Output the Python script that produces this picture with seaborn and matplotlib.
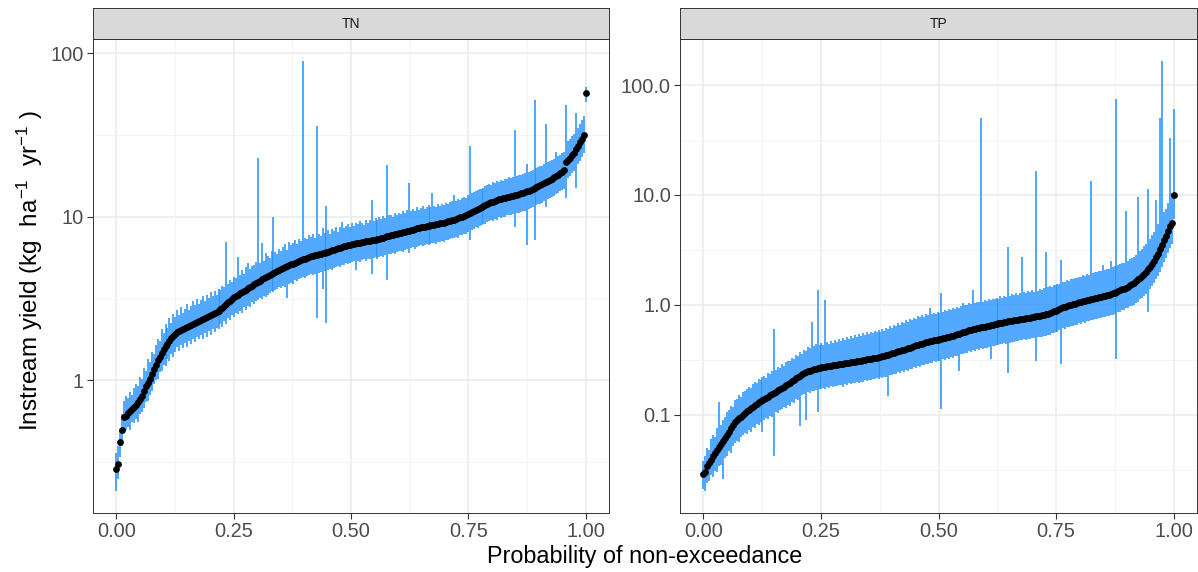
import numpy as np
import pandas as pd
import matplotlib
matplotlib.use("Agg")
import matplotlib.pyplot as plt
import seaborn as sns
from matplotlib.ticker import FixedLocator, FixedFormatter, NullFormatter

# ---------------- data ----------------
panels = ["TN", "TP"]

tn_median = [
    0.29, 0.31, 0.42, 0.50, 0.60, 0.61, 0.63, 0.65, 0.67, 0.69,
    0.71, 0.74, 0.77, 0.80, 0.86, 0.92, 0.97, 1.02, 1.10, 1.18,
    1.25, 1.33, 1.40, 1.48, 1.55, 1.62, 1.68, 1.75, 1.82, 1.88,
    1.93, 1.97, 2.01, 2.04, 2.07, 2.10, 2.13, 2.16, 2.19, 2.22,
    2.25, 2.28, 2.31, 2.34, 2.37, 2.40, 2.43, 2.46, 2.50, 2.53,
    2.57, 2.62, 2.67, 2.72, 2.78, 2.85, 2.92, 3.00, 3.07, 3.15,
    3.22, 3.28, 3.34, 3.40, 3.46, 3.52, 3.58, 3.65, 3.72, 3.80,
    3.87, 3.95, 4.02, 4.08, 4.14, 4.20, 4.27, 4.35, 4.42, 4.48,
    4.54, 4.60, 4.67, 4.75, 4.82, 4.88, 4.94, 5.00, 5.06, 5.12,
    5.18, 5.25, 5.31, 5.38, 5.44, 5.50, 5.56, 5.62, 5.67, 5.72,
    5.77, 5.82, 5.86, 5.90, 5.94, 5.98, 6.02, 6.07, 6.12, 6.18,
    6.24, 6.30, 6.36, 6.42, 6.48, 6.55, 6.60, 6.66, 6.71, 6.76,
    6.80, 6.85, 6.89, 6.93, 6.96, 7.00, 7.03, 7.07, 7.10, 7.14,
    7.18, 7.22, 7.26, 7.30, 7.35, 7.40, 7.46, 7.52, 7.58, 7.64,
    7.70, 7.76, 7.82, 7.88, 7.94, 8.00, 8.06, 8.12, 8.18, 8.24,
    8.30, 8.36, 8.42, 8.48, 8.54, 8.60, 8.65, 8.70, 8.75, 8.80,
    8.85, 8.90, 8.95, 9.00, 9.05, 9.10, 9.16, 9.22, 9.29, 9.36,
    9.44, 9.52, 9.61, 9.70, 9.80, 9.90, 10.02, 10.15, 10.30, 10.45,
    10.60, 10.75, 10.90, 11.05, 11.20, 11.35, 11.50, 11.65, 11.80, 11.95,
    12.10, 12.25, 12.38, 12.50, 12.62, 12.75, 12.85, 12.95, 13.05, 13.15,
    13.25, 13.35, 13.45, 13.55, 13.65, 13.75, 13.88, 14.00, 14.15, 14.30,
    14.45, 14.60, 14.80, 15.00, 15.20, 15.40, 15.60, 15.80, 16.05, 16.30,
    16.55, 16.80, 17.10, 17.40, 17.75, 18.10, 18.50, 18.90, 19.20, 21.50,
    22.3, 23.0, 23.8, 24.5, 25.8, 27.0, 28.5, 30.0, 31.5, 57.0]
tn_lower = [
    0.21, 0.25, 0.34, 0.40, 0.48, 0.50, 0.52, 0.50, 0.56, 0.55,
    0.58, 0.56, 0.62, 0.64, 0.68, 0.74, 0.75, 0.82, 0.86, 0.95,
    1.00, 1.02, 1.12, 1.15, 1.25, 1.22, 1.35, 1.32, 1.45, 1.40,
    1.50, 1.60, 1.52, 1.65, 1.58, 1.70, 1.60, 1.75, 1.66, 1.80,
    1.72, 1.85, 1.78, 1.90, 1.80, 1.95, 1.85, 2.00, 1.90, 2.05,
    1.98, 2.10, 2.05, 2.20, 2.12, 2.30, 2.20, 2.40, 2.35, 2.50,
    2.45, 2.60, 2.55, 2.65, 2.60, 2.80, 2.70, 2.85, 2.80, 3.00,
    2.95, 3.05, 3.10, 3.20, 3.15, 3.30, 3.25, 3.35, 3.40, 3.50,
    3.45, 3.55, 3.60, 3.70, 3.65, 3.80, 3.75, 3.20, 3.90, 3.95,
    3.90, 4.10, 4.05, 4.15, 4.20, 4.30, 4.25, 4.35, 4.40, 4.45,
    4.40, 4.50, 2.40, 4.55, 4.60, 3.60, 4.65, 2.25, 4.75, 4.80,
    4.75, 4.85, 4.90, 5.00, 4.95, 5.05, 5.10, 5.20, 5.15, 5.25,
    5.30, 5.35, 4.70, 5.40, 5.30, 5.45, 5.50, 5.40, 5.55, 5.50,
    4.50, 5.60, 5.65, 5.55, 5.70, 5.75, 5.70, 5.85, 4.10, 5.90,
    5.95, 6.00, 5.90, 6.10, 6.15, 6.20, 6.10, 6.30, 6.35, 6.00,
    6.45, 6.50, 6.40, 6.55, 6.60, 6.70, 6.60, 6.75, 6.80, 6.70,
    6.85, 6.90, 6.95, 6.85, 7.00, 7.05, 7.10, 7.00, 7.20, 7.25,
    7.30, 7.40, 7.45, 7.50, 7.45, 7.70, 7.75, 7.85, 7.80, 8.10,
    7.20, 8.30, 8.45, 8.60, 8.55, 8.80, 8.90, 9.05, 9.00, 9.25,
    9.40, 9.50, 9.45, 9.70, 9.60, 9.90, 9.80, 10.0, 9.90, 10.2,
    10.3, 10.2, 10.4, 8.60, 10.5, 10.6, 10.7, 10.9, 10.8, 6.70,
    11.2, 11.3, 11.4, 7.20, 11.8, 11.9, 12.0, 12.2, 12.4, 11.4,
    12.8, 13.0, 13.2, 13.4, 13.7, 14.0, 14.3, 14.6, 14.8, 13.0,
    17.2, 17.8, 18.4, 19.0, 15.0, 21.0, 22.0, 23.2, 24.5, 50.0]
tn_upper = [
    0.36, 0.40, 0.50, 0.62, 0.75, 0.80, 0.78, 0.85, 0.82, 0.90,
    0.95, 0.92, 1.05, 1.02, 1.20, 1.15, 1.35, 1.30, 1.50, 1.45,
    1.65, 1.80, 1.75, 2.05, 1.95, 2.20, 2.10, 2.40, 2.25, 2.55,
    2.45, 2.70, 2.50, 2.80, 2.60, 2.75, 2.95, 2.70, 2.85, 3.05,
    2.90, 3.15, 2.95, 3.10, 3.30, 3.05, 3.35, 3.20, 3.45, 3.30,
    3.50, 3.35, 3.60, 3.55, 3.80, 3.70, 7.00, 3.90, 4.10, 4.00,
    4.30, 4.20, 5.70, 4.40, 4.70, 4.50, 4.90, 5.20, 4.80, 5.00,
    5.10, 5.30, 22.7, 5.20, 6.90, 5.40, 6.00, 5.80, 5.60, 6.20,
    10.0, 6.10, 5.90, 6.40, 6.20, 6.50, 6.80, 6.30, 7.00, 6.70,
    6.90, 7.20, 6.80, 7.30, 7.10, 90.0, 7.40, 7.30, 7.70, 7.50,
    7.80, 7.40, 36.0, 7.90, 7.60, 8.50, 8.00, 11.7, 8.30, 7.90,
    8.40, 8.20, 8.60, 8.10, 8.70, 9.30, 8.50, 8.80, 9.00, 8.70,
    9.10, 8.80, 9.20, 9.00, 9.40, 9.10, 8.90, 9.50, 9.20, 9.60,
    12.6, 9.40, 9.80, 9.50, 9.90, 9.70, 10.1, 9.80, 20.6, 10.2,
    10.3, 10.0, 10.5, 10.3, 10.6, 10.4, 10.9, 10.6, 11.0, 16.0,
    10.8, 11.2, 10.9, 11.4, 11.0, 11.3, 11.6, 11.2, 11.5, 11.8,
    11.4, 14.0, 11.7, 11.5, 11.9, 11.6, 12.0, 11.8, 12.2, 12.0,
    12.3, 12.5, 13.5, 12.4, 12.8, 12.6, 13.0, 13.2, 13.0, 13.6,
    27.0, 13.9, 14.2, 14.4, 14.6, 14.8, 14.7, 15.0, 15.4, 15.6,
    15.8, 15.6, 16.2, 16.0, 16.5, 16.3, 16.8, 16.6, 17.0, 16.9,
    17.4, 17.2, 17.6, 34.0, 17.8, 18.0, 17.9, 18.2, 18.5, 21.0,
    18.8, 19.0, 19.4, 52.0, 19.8, 20.0, 20.4, 20.5, 21.0, 37.0,
    21.5, 21.8, 22.3, 22.6, 25.0, 23.5, 24.0, 24.5, 25.0, 48.0,
    29.0, 30.0, 31.0, 32.0, 43.0, 35.0, 37.0, 39.0, 41.0, 62.0]

tp_median = [
    0.029, 0.030, 0.034, 0.036, 0.039, 0.042, 0.045, 0.048, 0.051, 0.054,
    0.057, 0.061, 0.065, 0.070, 0.075, 0.080, 0.085, 0.089, 0.093, 0.096,
    0.100, 0.103, 0.107, 0.110, 0.114, 0.118, 0.122, 0.126, 0.130, 0.133,
    0.137, 0.140, 0.143, 0.146, 0.150, 0.153, 0.157, 0.162, 0.166, 0.170,
    0.175, 0.180, 0.185, 0.190, 0.196, 0.202, 0.208, 0.214, 0.220, 0.226,
    0.232, 0.238, 0.243, 0.248, 0.252, 0.256, 0.259, 0.262, 0.265, 0.267,
    0.269, 0.271, 0.273, 0.275, 0.277, 0.279, 0.281, 0.283, 0.285, 0.287,
    0.289, 0.291, 0.293, 0.295, 0.297, 0.299, 0.301, 0.303, 0.306, 0.308,
    0.311, 0.313, 0.316, 0.318, 0.321, 0.323, 0.326, 0.328, 0.331, 0.334,
    0.337, 0.340, 0.344, 0.348, 0.352, 0.357, 0.361, 0.366, 0.371, 0.376,
    0.381, 0.386, 0.391, 0.397, 0.402, 0.408, 0.414, 0.420, 0.426, 0.432,
    0.438, 0.444, 0.450, 0.455, 0.460, 0.465, 0.470, 0.474, 0.478, 0.482,
    0.486, 0.490, 0.495, 0.500, 0.506, 0.512, 0.518, 0.525, 0.532, 0.540,
    0.547, 0.555, 0.562, 0.570, 0.577, 0.585, 0.591, 0.598, 0.604, 0.610,
    0.616, 0.622, 0.628, 0.634, 0.640, 0.646, 0.652, 0.658, 0.664, 0.670,
    0.676, 0.682, 0.688, 0.694, 0.700, 0.705, 0.710, 0.716, 0.721, 0.727,
    0.732, 0.738, 0.743, 0.749, 0.754, 0.760, 0.765, 0.771, 0.777, 0.783,
    0.789, 0.795, 0.802, 0.810, 0.820, 0.830, 0.842, 0.855, 0.870, 0.885,
    0.900, 0.915, 0.930, 0.945, 0.960, 0.975, 0.988, 1.000, 1.012, 1.025,
    1.037, 1.050, 1.062, 1.075, 1.088, 1.100, 1.112, 1.125, 1.137, 1.150,
    1.162, 1.175, 1.187, 1.200, 1.212, 1.225, 1.240, 1.255, 1.272, 1.290,
    1.310, 1.330, 1.355, 1.380, 1.405, 1.430, 1.465, 1.500, 1.545, 1.590,
    1.645, 1.700, 1.770, 1.840, 1.920, 2.000, 2.100, 2.200, 2.350, 2.500,
    2.700, 2.900, 3.200, 3.500, 3.850, 4.200, 4.700, 5.200, 5.600, 9.900]
tp_lower = [
    0.021, 0.020, 0.024, 0.025, 0.028, 0.027, 0.031, 0.030, 0.034, 0.035,
    0.026, 0.040, 0.042, 0.047, 0.045, 0.052, 0.055, 0.058, 0.056, 0.063,
    0.065, 0.068, 0.066, 0.072, 0.070, 0.077, 0.075, 0.082, 0.080, 0.086,
    0.070, 0.090, 0.093, 0.092, 0.097, 0.095, 0.042, 0.105, 0.103, 0.110,
    0.113, 0.117, 0.115, 0.123, 0.120, 0.131, 0.128, 0.139, 0.136, 0.079,
    0.150, 0.155, 0.090, 0.160, 0.158, 0.165, 0.163, 0.168, 0.105, 0.172,
    0.170, 0.176, 0.172, 0.178, 0.175, 0.181, 0.178, 0.184, 0.181, 0.186,
    0.185, 0.180, 0.190, 0.188, 0.193, 0.190, 0.195, 0.193, 0.198, 0.196,
    0.200, 0.198, 0.205, 0.202, 0.208, 0.206, 0.212, 0.210, 0.215, 0.213,
    0.218, 0.216, 0.222, 0.220, 0.147, 0.230, 0.228, 0.236, 0.234, 0.243,
    0.240, 0.248, 0.246, 0.255, 0.252, 0.262, 0.258, 0.270, 0.266, 0.278,
    0.274, 0.285, 0.282, 0.292, 0.288, 0.298, 0.295, 0.305, 0.300, 0.310,
    0.306, 0.113, 0.318, 0.315, 0.325, 0.322, 0.333, 0.330, 0.342, 0.340,
    0.250, 0.357, 0.354, 0.366, 0.363, 0.376, 0.372, 0.384, 0.380, 0.392,
    0.388, 0.400, 0.396, 0.408, 0.404, 0.416, 0.320, 0.424, 0.420, 0.432,
    0.428, 0.440, 0.436, 0.448, 0.444, 0.240, 0.452, 0.462, 0.458, 0.470,
    0.466, 0.478, 0.474, 0.485, 0.480, 0.492, 0.488, 0.500, 0.495, 0.310,
    0.505, 0.512, 0.508, 0.522, 0.520, 0.535, 0.532, 0.552, 0.548, 0.570,
    0.565, 0.590, 0.290, 0.610, 0.605, 0.630, 0.625, 0.645, 0.640, 0.660,
    0.655, 0.678, 0.672, 0.694, 0.688, 0.710, 0.705, 0.726, 0.720, 0.742,
    0.736, 0.758, 0.752, 0.774, 0.768, 0.790, 0.785, 0.810, 0.805, 0.832,
    0.320, 0.860, 0.858, 0.890, 0.888, 0.925, 0.925, 0.968, 0.975, 1.000,
    1.040, 1.070, 1.120, 1.160, 1.210, 1.260, 0.860, 1.390, 1.480, 1.575,
    1.700, 1.830, 2.000, 2.200, 2.450, 2.650, 2.950, 3.300, 3.550, 6.000]
tp_upper = [
    0.038, 0.042, 0.050, 0.048, 0.060, 0.065, 0.062, 0.075, 0.130, 0.080,
    0.090, 0.095, 0.105, 0.110, 0.120, 0.118, 0.135, 0.140, 0.150, 0.145,
    0.160, 0.165, 0.170, 0.180, 0.175, 0.190, 0.200, 0.195, 0.210, 0.205,
    0.220, 0.225, 0.215, 0.240, 0.235, 0.250, 0.600, 0.255, 0.270, 0.265,
    0.290, 0.280, 0.300, 0.310, 0.305, 0.330, 0.320, 0.350, 0.340, 0.370,
    0.360, 0.390, 0.380, 0.410, 0.400, 0.690, 0.420, 0.440, 1.360, 0.430,
    0.450, 0.430, 1.100, 0.460, 0.440, 0.470, 0.450, 0.480, 0.460, 0.490,
    0.470, 0.500, 0.480, 0.510, 0.490, 0.520, 0.500, 0.530, 0.510, 0.540,
    0.520, 0.550, 0.530, 0.560, 0.540, 0.570, 0.550, 0.580, 0.560, 0.590,
    0.570, 0.600, 0.580, 0.620, 0.600, 0.640, 0.620, 0.660, 0.640, 0.680,
    0.660, 0.700, 0.680, 0.720, 0.700, 0.740, 0.720, 0.760, 0.740, 0.790,
    0.770, 0.800, 0.780, 0.820, 0.800, 0.940, 0.820, 0.850, 0.830, 0.860,
    0.840, 1.280, 0.860, 0.890, 0.870, 0.910, 0.890, 0.930, 0.910, 0.960,
    0.940, 0.980, 1.040, 1.000, 0.990, 1.030, 1.010, 1.370, 1.040, 1.070,
    1.050, 50.0, 1.070, 1.100, 1.080, 1.120, 1.100, 1.140, 1.120, 1.160,
    1.140, 1.190, 1.160, 1.210, 1.180, 3.350, 1.200, 1.250, 1.220, 1.270,
    1.240, 1.290, 2.700, 1.310, 1.280, 1.330, 1.300, 1.350, 1.320, 16.6,
    1.340, 1.390, 1.360, 1.420, 3.000, 1.450, 1.480, 1.460, 1.520, 1.500,
    1.560, 1.540, 2.550, 1.620, 1.600, 1.680, 1.650, 1.720, 1.700, 1.760,
    1.740, 1.800, 1.780, 1.850, 1.830, 1.900, 1.880, 13.5, 1.930, 1.990,
    1.970, 2.040, 2.010, 2.300, 2.060, 2.120, 2.100, 2.500, 2.200, 2.250,
    74.0, 2.300, 2.330, 2.420, 2.400, 7.200, 2.520, 2.600, 2.650, 2.750,
    2.850, 9.500, 3.100, 3.250, 3.400, 3.600, 11.4, 4.000, 4.300, 4.600,
    8.900, 5.400, 50.0, 167.0, 7.000, 7.500, 8.500, 33.0, 10.5, 61.0]

tn_ticks = [1, 10, 100]
tn_tick_labels = ["1", "10", "100"]
tp_ticks = [0.1, 1, 10, 100]
tp_tick_labels = ["0.1", "1.0", "10.0", "100.0"]
x_ticks = [0.00, 0.25, 0.50, 0.75, 1.00]
x_tick_labels = ["0.00", "0.25", "0.50", "0.75", "1.00"]

# probability of non-exceedance from rank
def ecdf_prob(n):
    return np.arange(n) / (n - 1)

frames = []
for name, med, lo, hi in [("TN", tn_median, tn_lower, tn_upper),
                          ("TP", tp_median, tp_lower, tp_upper)]:
    frames.append(pd.DataFrame({"nutrient": name, "prob": ecdf_prob(len(med)),
                                "median": med, "lower": lo, "upper": hi}))
df = pd.concat(frames, ignore_index=True)

# ---------------- style ----------------
sns.set_theme(style="white")
plt.rcParams["font.family"] = ["Liberation Sans", "DejaVu Sans"]
plt.rcParams["mathtext.fontset"] = "custom"
plt.rcParams["mathtext.rm"] = "Liberation Sans"
plt.rcParams["mathtext.it"] = "Liberation Sans:italic"
plt.rcParams["mathtext.bf"] = "Liberation Sans:bold"

W, H = 1198, 572
fig = plt.figure(figsize=(W / 100, H / 100), dpi=100)
fig.patch.set_facecolor("white")

panel_px = {"TN": (93, 609), "TP": (680, 1197)}
top_px, bot_px, strip_top = 39, 513, 8
ticks_cfg = {"TN": (tn_ticks, tn_tick_labels), "TP": (tp_ticks, tp_tick_labels)}

border = "#333333"
for name in panels:
    x0, x1 = panel_px[name]
    ax = fig.add_axes([x0 / W, 1 - bot_px / H, (x1 - x0) / W, (bot_px - top_px) / H])
    d = df[df.nutrient == name]
    ax.vlines(d["prob"], d["lower"], d["upper"], color="#1E90FF", lw=1.1, zorder=2)
    sns.scatterplot(data=d, x="prob", y="median", color="black", s=24,
                    linewidth=0, ax=ax, zorder=3, legend=False)
    ax.set_yscale("log")
    lo = np.log10(d["lower"].min()); hi = np.log10(d["upper"].max())
    pad = 0.05 * (hi - lo)
    ax.set_ylim(10 ** (lo - pad), 10 ** (hi + pad))
    ax.set_xlim(-0.05, 1.05)
    t, tl = ticks_cfg[name]
    ax.yaxis.set_major_locator(FixedLocator(t))
    ax.yaxis.set_major_formatter(FixedFormatter(tl))
    minors = [10 ** (np.log10(v) + 0.5) for v in t] + [10 ** (np.log10(t[0]) - 0.5)]
    ax.yaxis.set_minor_locator(FixedLocator(minors))
    ax.yaxis.set_minor_formatter(NullFormatter())
    ax.xaxis.set_major_locator(FixedLocator(x_ticks))
    ax.xaxis.set_major_formatter(FixedFormatter(x_tick_labels))
    ax.xaxis.set_minor_locator(FixedLocator([0.125, 0.375, 0.625, 0.875]))
    ax.set_axisbelow(True)
    ax.grid(which="major", color="#EBEBEB", lw=1.1)
    ax.grid(which="minor", color="#F2F2F2", lw=0.6)
    ax.tick_params(which="major", length=4, width=0.8, color=border,
                   labelsize=14.4, labelcolor="#4D4D4D", pad=2.5,
                   left=True, bottom=True)
    ax.tick_params(which="minor", length=0)
    for s in ax.spines.values():
        s.set_color(border); s.set_linewidth(0.7); s.set_visible(True)
    ax.set_xlabel(""); ax.set_ylabel("")

    sax = fig.add_axes([x0 / W, 1 - top_px / H, (x1 - x0) / W, (top_px - strip_top) / H])
    sax.set_facecolor("#D9D9D9")
    sax.set_xticks([]); sax.set_yticks([])
    for s in sax.spines.values():
        s.set_color(border); s.set_linewidth(0.7)
    sax.text(0.5, 0.5, name, ha="center", va="center", fontsize=10,
             color="#1A1A1A", transform=sax.transAxes)

fig.text(645 / W, 1 - 557 / H, "Probability of non-exceedance",
         ha="center", va="center", fontsize=16.8, color="black")
fig.text(30 / W, 1 - 270 / H, r"Instream yield (kg  ha$^{-1}$  yr$^{-1}$ )",
         ha="center", va="center", rotation=90, fontsize=17.5, color="black")

fig.savefig("out.png", dpi=100, facecolor="white")
